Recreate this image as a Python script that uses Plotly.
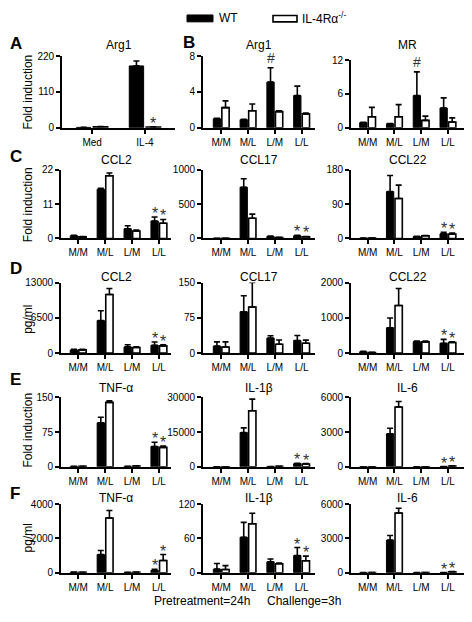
import plotly.graph_objects as go

# page body has an 8px margin: the figure is sized so that it fills the window exactly
PAGE_W, PAGE_H = 472, 622
OFF = 8
W, H = PAGE_W - 2 * OFF, PAGE_H - 2 * OFF
FONT = "Liberation Sans, Arial, Helvetica, sans-serif"

# ---------------- data ----------------
cats_a = ["Med", "IL-4"]
cats_b = ["M/M", "M/L", "L/M", "L/L"]

# A  Arg1 (fold induction)
a_arg1_wt = [1, 190];        a_arg1_wt_err = [0.5, 15]
a_arg1_ko = [3, 2];          a_arg1_ko_err = [0.5, 0.5]
a_arg1_ticks = [0, 110, 220]

# B  Arg1 / MR (fold induction)
b_arg1_wt = [1.0, 0.9, 5.1, 3.6];   b_arg1_wt_err = [0.05, 0.05, 1.6, 1.05]
b_arg1_ko = [2.25, 1.9, 1.8, 1.55]; b_arg1_ko_err = [0.75, 0.75, 0.1, 0.1]
b_arg1_ticks = [0, 4, 8]
b_mr_wt = [0.9, 0.7, 5.7, 3.5];     b_mr_wt_err = [0.05, 0.05, 4.2, 1.8]
b_mr_ko = [1.95, 1.95, 1.3, 1.0];   b_mr_ko_err = [1.65, 2.15, 0.75, 0.75]
b_mr_ticks = [0, 6, 12]

# C  chemokines (fold induction)
c_ccl2_wt = [0.9, 15.8, 3.1, 5.6];  c_ccl2_wt_err = [0.1, 0.3, 1.0, 1.3]
c_ccl2_ko = [0.5, 20.1, 2.4, 4.9];  c_ccl2_ko_err = [0.1, 0.9, 0.3, 1.2]
c_ccl2_ticks = [0, 11, 22]
c_ccl17_wt = [3, 747, 30, 40];      c_ccl17_wt_err = [0, 124, 5, 5]
c_ccl17_ko = [2, 295, 15, 25];      c_ccl17_ko_err = [0, 60, 3, 4]
c_ccl17_ticks = [0, 500, 1000]
c_ccl22_wt = [1, 123, 5, 12.5];     c_ccl22_wt_err = [0, 42, 0.5, 3.5]
c_ccl22_ko = [1, 105, 7, 11.5];     c_ccl22_ko_err = [0, 35, 0.5, 2.5]
c_ccl22_ticks = [0, 90, 180]

# D  chemokines (pg/ml)
d_ccl2_wt = [600, 6000, 1150, 1450];  d_ccl2_wt_err = [100, 1800, 400, 600]
d_ccl2_ko = [600, 10800, 1030, 1330]; d_ccl2_ko_err = [100, 1100, 150, 200]
d_ccl2_ticks = [0, 6500, 13000]
d_ccl17_wt = [15, 88, 32, 27];        d_ccl17_wt_err = [9, 34, 5, 10.5]
d_ccl17_ko = [13, 98, 19, 21];        d_ccl17_ko_err = [11, 52, 9, 6.6]
d_ccl17_ticks = [0, 75, 150]
d_ccl22_wt = [40, 720, 325, 280];     d_ccl22_wt_err = [10, 275, 15, 110]
d_ccl22_ko = [20, 1350, 320, 300];    d_ccl22_ko_err = [5, 480, 20, 20]
d_ccl22_ticks = [0, 1000, 2000]

# E  cytokines (fold induction)
e_tnf_wt = [1, 95, 1, 44];            e_tnf_wt_err = [0.2, 12, 0.2, 9]
e_tnf_ko = [1, 139, 2, 42];           e_tnf_ko_err = [0.2, 3.6, 0.3, 3]
e_tnf_ticks = [0, 75, 150]
e_il1b_wt = [50, 14800, 150, 1380];   e_il1b_wt_err = [10, 2000, 20, 150]
e_il1b_ko = [50, 24200, 250, 1240];   e_il1b_ko_err = [10, 5000, 30, 150]
e_il1b_ticks = [0, 15000, 30000]
e_il6_wt = [2, 2850, 2, 20];          e_il6_wt_err = [0, 480, 0, 5]
e_il6_ko = [2, 5160, 3, 80];          e_il6_ko_err = [0, 480, 0, 10]
e_il6_ticks = [0, 3000, 6000]

# F  cytokines (pg/ml)
f_tnf_wt = [30, 1060, 20, 135];       f_tnf_wt_err = [5, 235, 5, 60]
f_tnf_ko = [20, 3190, 30, 715];       f_tnf_ko_err = [5, 440, 5, 345]
f_tnf_ticks = [0, 2000, 4000]
f_il1b_wt = [6.2, 62, 19, 30];        f_il1b_wt_err = [10, 26, 5, 14]
f_il1b_ko = [5.6, 85.6, 15.8, 21];    f_il1b_ko_err = [6.8, 18.4, 1.2, 8]
f_il1b_ticks = [0, 60, 120]
f_il6_wt = [5, 2850, 5, 10];          f_il6_wt_err = [0, 410, 0, 0]
f_il6_ko = [5, 5220, 5, 80];          f_il6_ko_err = [0, 420, 0, 20]
f_il6_ticks = [0, 3000, 6000]

# significance markers: (category, series)
stars_a = [("IL-4", "ko")]
stars_ll = [("L/L", "wt"), ("L/L", "ko")]
hash_b = [("L/M", "wt")]

# ---------------- layout geometry (page pixels) ----------------
COL1 = (61, 171, (-0.64, 3.45))
COL2 = (203, 315, (-0.68, 3.5))
COL3 = (351, 464, (-0.62, 3.6))
ROWS = {"C": (167, 237), "D": (282, 354), "E": (399, 470), "F": (508, 578)}
TITLE_Y = {"AB": 40, "C": 157, "D": 276, "E": 390, "F": 502}

panels = [
    dict(t="Arg1", c=cats_a, wt=a_arg1_wt, we=a_arg1_wt_err, ko=a_arg1_ko, ke=a_arg1_ko_err,
         tk=a_arg1_ticks, col=(62, 175, (-0.57, 1.57)), row=(51, 124), ty=TITLE_Y["AB"], st=stars_a, hs=[]),
    dict(t="Arg1", c=cats_b, wt=b_arg1_wt, we=b_arg1_wt_err, ko=b_arg1_ko, ke=b_arg1_ko_err,
         tk=b_arg1_ticks, col=COL2, row=(51, 124), ty=TITLE_Y["AB"], st=[], hs=hash_b),
    dict(t="MR", c=cats_b, wt=b_mr_wt, we=b_mr_wt_err, ko=b_mr_ko, ke=b_mr_ko_err,
         tk=b_mr_ticks, col=COL3, row=(55, 124), ty=TITLE_Y["AB"], st=[], hs=hash_b),
    dict(t="CCL2", c=cats_b, wt=c_ccl2_wt, we=c_ccl2_wt_err, ko=c_ccl2_ko, ke=c_ccl2_ko_err,
         tk=c_ccl2_ticks, col=COL1, row=ROWS["C"], ty=TITLE_Y["C"], st=stars_ll, hs=[]),
    dict(t="CCL17", c=cats_b, wt=c_ccl17_wt, we=c_ccl17_wt_err, ko=c_ccl17_ko, ke=c_ccl17_ko_err,
         tk=c_ccl17_ticks, col=COL2, row=ROWS["C"], ty=TITLE_Y["C"], st=stars_ll, hs=[]),
    dict(t="CCL22", c=cats_b, wt=c_ccl22_wt, we=c_ccl22_wt_err, ko=c_ccl22_ko, ke=c_ccl22_ko_err,
         tk=c_ccl22_ticks, col=COL3, row=ROWS["C"], ty=TITLE_Y["C"], st=stars_ll, hs=[]),
    dict(t="CCL2", c=cats_b, wt=d_ccl2_wt, we=d_ccl2_wt_err, ko=d_ccl2_ko, ke=d_ccl2_ko_err,
         tk=d_ccl2_ticks, col=COL1, row=ROWS["D"], ty=TITLE_Y["D"], st=stars_ll, hs=[]),
    dict(t="CCL17", c=cats_b, wt=d_ccl17_wt, we=d_ccl17_wt_err, ko=d_ccl17_ko, ke=d_ccl17_ko_err,
         tk=d_ccl17_ticks, col=COL2, row=ROWS["D"], ty=TITLE_Y["D"], st=[], hs=[]),
    dict(t="CCL22", c=cats_b, wt=d_ccl22_wt, we=d_ccl22_wt_err, ko=d_ccl22_ko, ke=d_ccl22_ko_err,
         tk=d_ccl22_ticks, col=COL3, row=ROWS["D"], ty=TITLE_Y["D"], st=stars_ll, hs=[]),
    dict(t="TNF-α", c=cats_b, wt=e_tnf_wt, we=e_tnf_wt_err, ko=e_tnf_ko, ke=e_tnf_ko_err,
         tk=e_tnf_ticks, col=COL1, row=ROWS["E"], ty=TITLE_Y["E"], st=stars_ll, hs=[]),
    dict(t="IL-1β", c=cats_b, wt=e_il1b_wt, we=e_il1b_wt_err, ko=e_il1b_ko, ke=e_il1b_ko_err,
         tk=e_il1b_ticks, col=COL2, row=ROWS["E"], ty=TITLE_Y["E"], st=stars_ll, hs=[]),
    dict(t="IL-6", c=cats_b, wt=e_il6_wt, we=e_il6_wt_err, ko=e_il6_ko, ke=e_il6_ko_err,
         tk=e_il6_ticks, col=COL3, row=ROWS["E"], ty=TITLE_Y["E"], st=stars_ll, hs=[]),
    dict(t="TNF-α", c=cats_b, wt=f_tnf_wt, we=f_tnf_wt_err, ko=f_tnf_ko, ke=f_tnf_ko_err,
         tk=f_tnf_ticks, col=COL1, row=ROWS["F"], ty=TITLE_Y["F"], st=stars_ll, hs=[]),
    dict(t="IL-1β", c=cats_b, wt=f_il1b_wt, we=f_il1b_wt_err, ko=f_il1b_ko, ke=f_il1b_ko_err,
         tk=f_il1b_ticks, col=COL2, row=ROWS["F"], ty=TITLE_Y["F"], st=stars_ll, hs=[]),
    dict(t="IL-6", c=cats_b, wt=f_il6_wt, we=f_il6_wt_err, ko=f_il6_ko, ke=f_il6_ko_err,
         tk=f_il6_ticks, col=COL3, row=ROWS["F"], ty=TITLE_Y["F"], st=stars_ll, hs=[]),
]

BARGAP = 0.36
BARGROUPGAP = 0.15

fig = go.Figure()
layout = {}
annotations = []


def px_x(v):
    return (v - OFF) / W


def px_y(v):
    return 1 - (v - OFF) / H


for k, p in enumerate(panels, start=1):
    xa = "x" if k == 1 else f"x{k}"
    ya = "y" if k == 1 else f"y{k}"
    xs = list(range(len(p["c"])))
    for key, ekey, fill, lw in (("wt", "we", "black", 1), ("ko", "ke", "white", 1.6)):
        fig.add_trace(go.Bar(
            x=xs, y=p[key], xaxis=xa, yaxis=ya, showlegend=False,
            marker=dict(color=fill, line=dict(color="black", width=lw)),
            error_y=dict(type="data", symmetric=False, array=p[ekey],
                         arrayminus=[0] * len(xs), color="black", thickness=1.6, width=3),
            hoverinfo="skip"))
    l, r, xr = p["col"]
    t, b = p["row"]
    ymax = p["tk"][-1]
    layout["xaxis" if k == 1 else f"xaxis{k}"] = dict(
        domain=[px_x(l), px_x(r)], range=list(xr), anchor=ya,
        tickvals=xs, ticktext=p["c"], showline=True, linecolor="black", linewidth=1.8,
        ticks="outside", ticklen=4, tickwidth=1.6, tickcolor="black",
        showgrid=False, zeroline=False, tickfont=dict(size=10, color="black"))
    layout["yaxis" if k == 1 else f"yaxis{k}"] = dict(
        domain=[px_y(b), px_y(t)], range=[0, ymax], anchor=xa,
        tickvals=p["tk"], ticktext=[str(v) for v in p["tk"]],
        showline=True, linecolor="black", linewidth=1.8,
        ticks="outside", ticklen=4, tickwidth=1.6, tickcolor="black",
        showgrid=False, zeroline=False, tickfont=dict(size=10, color="black"))
    # panel title
    annotations.append(dict(x=px_x((l + r) / 2), y=px_y(p["ty"]), xref="paper", yref="paper",
                            text=p["t"], showarrow=False, font=dict(size=12, color="black"),
                            xanchor="center", yanchor="middle"))
    half = (1 - BARGAP) / 4
    for marks, sym, ysh, fs in ((p["st"], "*", -7, 16), (p["hs"], "#", 0, 14)):
        for cat, ser in marks:
            i = p["c"].index(cat)
            if ser == "wt":
                xv, top = i - half, p["wt"][i] + p["we"][i]
            else:
                xv, top = i + half, p["ko"][i] + p["ke"][i]
            annotations.append(dict(x=xv, y=top, xref=xa, yref=ya, text=sym, showarrow=False,
                                    xanchor="center", yanchor="bottom", yshift=ysh,
                                    font=dict(size=fs, color="#333")))

# panel letters
for letter, (lx, ly) in {"A": (8, 38), "B": (181, 37), "C": (8, 153), "D": (8, 268),
                         "E": (8, 381), "F": (8, 497)}.items():
    annotations.append(dict(x=px_x(lx), y=px_y(ly), xref="paper", yref="paper", text=f"<b>{letter}</b>",
                            showarrow=False, font=dict(size=17, color="black"),
                            xanchor="left", yanchor="middle"))

# y axis titles
for txt, cy in (("Fold induction", 88), ("Fold induction", 203), ("pg/ml", 320),
                ("Fold induction", 433), ("pg/ml", 543)):
    annotations.append(dict(x=px_x(28), y=px_y(cy), xref="paper", yref="paper", text=txt,
                            textangle=-90, showarrow=False, font=dict(size=12, color="black"),
                            xanchor="center", yanchor="middle"))

# legend
shapes = [
    dict(type="rect", xref="paper", yref="paper", x0=px_x(187), x1=px_x(213), y0=px_y(16), y1=px_y(9),
         fillcolor="black", line=dict(color="black", width=1)),
    dict(type="rect", xref="paper", yref="paper", x0=px_x(273), x1=px_x(297), y0=px_y(16), y1=px_y(9.5),
         fillcolor="white", line=dict(color="black", width=1.6)),
]
annotations.append(dict(x=px_x(217), y=px_y(12.5), xref="paper", yref="paper", text="WT",
                        showarrow=False, xanchor="left", yanchor="middle", font=dict(size=12, color="black")))
annotations.append(dict(x=px_x(300), y=px_y(12.5), xref="paper", yref="paper",
                        text="IL-4Rα<sup>-/-</sup>", showarrow=False, xanchor="left", yanchor="middle",
                        font=dict(size=12, color="black")))

# footer
annotations.append(dict(x=px_x(152), y=px_y(607), xref="paper", yref="paper", text="Pretreatment=24h",
                        showarrow=False, xanchor="left", yanchor="middle", font=dict(size=12, color="black")))
annotations.append(dict(x=px_x(265), y=px_y(607), xref="paper", yref="paper", text="Challenge=3h",
                        showarrow=False, xanchor="left", yanchor="middle", font=dict(size=12, color="black")))

fig.update_layout(
    width=W, height=H, margin=dict(l=0, r=0, t=0, b=0),
    paper_bgcolor="white", plot_bgcolor="white",
    font=dict(family=FONT, color="black"),
    barmode="group", bargap=BARGAP, bargroupgap=BARGROUPGAP,
    showlegend=False, annotations=annotations, shapes=shapes,
    **layout)

fig.write_html("out.html")
